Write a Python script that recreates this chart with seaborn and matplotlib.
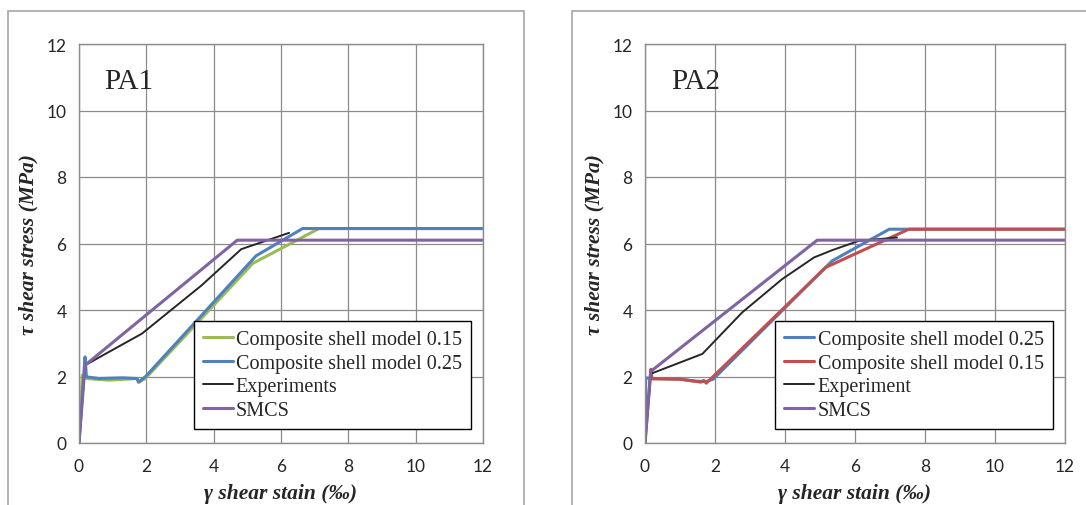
import matplotlib
matplotlib.use("Agg")
import matplotlib.pyplot as plt
import seaborn as sns
import pandas as pd
from matplotlib.patches import Rectangle

# PA1 panel data (strain in permil, stress in MPa)
pa1_m015_x = [0, 0.10, 0.22, 0.88, 1.72, 1.77, 1.97, 5.16, 7.13, 12]
pa1_m015_y = [0, 2.04, 1.94, 1.89, 1.94, 1.82, 1.94, 5.40, 6.45, 6.45]
pa1_m025_x = [0, 0.18, 0.22, 0.59, 1.28, 1.72, 1.77, 1.97, 5.26, 6.64, 12]
pa1_m025_y = [0, 2.59, 1.99, 1.94, 1.96, 1.94, 1.84, 1.99, 5.63, 6.45, 6.45]
pa1_exp_x = [0, 0.18, 1.87, 3.64, 4.82, 6.24]
pa1_exp_y = [0, 2.34, 3.29, 4.74, 5.83, 6.32]
pa1_smcs_x = [0, 0.18, 4.70, 12]
pa1_smcs_y = [0, 2.34, 6.10, 6.10]

# PA2 panel data
pa2_m025_x = [0, 0.02, 0.20, 1.00, 1.45, 1.75, 1.95, 5.35, 6.98, 12]
pa2_m025_y = [0, 1.96, 1.94, 1.92, 1.86, 1.85, 1.92, 5.48, 6.43, 6.43]
pa2_m015_x = [0, 0.17, 0.20, 1.00, 1.60, 1.68, 1.75, 1.90, 5.16, 7.54, 12]
pa2_m015_y = [0, 2.22, 1.93, 1.92, 1.83, 1.88, 1.80, 1.95, 5.28, 6.43, 6.43]
pa2_exp_x = [0, 0.16, 1.64, 2.78, 3.92, 4.83, 5.35, 6.11, 7.20]
pa2_exp_y = [0, 2.08, 2.68, 3.93, 4.93, 5.58, 5.80, 6.08, 6.18]
pa2_smcs_x = [0, 0.16, 4.92, 12]
pa2_smcs_y = [0, 2.15, 6.10, 6.10]

ticks = [0, 2, 4, 6, 8, 10, 12]

green = "#9BBB59"
blue = "#4F81BD"
red = "#C0504D"
purple = "#8064A2"
grid_gray = "#8C8C8C"

sns.set_theme(style="white")
plt.rcParams["font.family"] = ["Lato", "DejaVu Sans"]

fig = plt.figure(figsize=(10.86, 5.06), dpi=100)

# outer chart boxes like the spreadsheet chart frames
for x0, x1 in [(8, 524), (572, 1100)]:
    fig.patches.append(Rectangle((x0 / 1086, -0.1), (x1 - x0) / 1086, 1.1 - 12 / 506,
                                 transform=fig.transFigure, fill=False,
                                 edgecolor="#A6A6A6", linewidth=1.2))


def draw_panel(ax, series, title):
    for xs, ys, color, lw, label in series:
        df = pd.DataFrame({"x": xs, "y": ys})
        sns.lineplot(data=df, x="x", y="y", sort=False, color=color,
                     linewidth=lw, label=label, ax=ax, estimator=None)
    ax.set_xlim(0, 12)
    ax.set_ylim(0, 12)
    ax.set_xticks(ticks)
    ax.set_yticks(ticks)
    ax.grid(True, color=grid_gray, linewidth=0.9)
    ax.set_axisbelow(True)
    for s in ax.spines.values():
        s.set_color(grid_gray)
        s.set_linewidth(1.0)
    ax.tick_params(axis="both", labelsize=12.5, length=0, pad=11)
    ax.tick_params(axis="y", pad=9)
    ax.set_xlabel("γ shear stain (‰)", family="Liberation Serif", weight="bold",
                  style="italic", fontsize=15.5, labelpad=6)
    ax.set_ylabel("τ shear stress (MPa)", family="Liberation Serif", weight="bold",
                  style="italic", fontsize=15.5, labelpad=6)
    ax.text(0.75, 10.9, title, family="Liberation Serif", fontsize=21, va="center")
    leg = ax.legend(loc="lower right", bbox_to_anchor=(0.98, 0.025), frameon=True,
                    fancybox=False, edgecolor="black", framealpha=1,
                    prop={"family": "Liberation Serif", "size": 14.5},
                    handlelength=1.5, handletextpad=0.15, borderpad=0.45,
                    labelspacing=0.22, borderaxespad=0.2)
    leg.get_frame().set_linewidth(1.0)


ax1 = fig.add_axes([79 / 1086, 62 / 506, 404 / 1086, 399 / 506])
draw_panel(ax1, [
    (pa1_m015_x, pa1_m015_y, green, 2.2, "Composite shell model 0.15"),
    (pa1_m025_x, pa1_m025_y, blue, 2.2, "Composite shell model 0.25"),
    (pa1_exp_x, pa1_exp_y, "#262626", 1.4, "Experiments"),
    (pa1_smcs_x, pa1_smcs_y, purple, 2.2, "SMCS"),
], "PA1")

ax2 = fig.add_axes([645 / 1086, 62 / 506, 420 / 1086, 399 / 506])
draw_panel(ax2, [
    (pa2_m025_x, pa2_m025_y, blue, 2.2, "Composite shell model 0.25"),
    (pa2_m015_x, pa2_m015_y, red, 2.2, "Composite shell model 0.15"),
    (pa2_exp_x, pa2_exp_y, "#262626", 1.4, "Experiment"),
    (pa2_smcs_x, pa2_smcs_y, purple, 2.2, "SMCS"),
], "PA2")

fig.savefig("out.png", dpi=100)
